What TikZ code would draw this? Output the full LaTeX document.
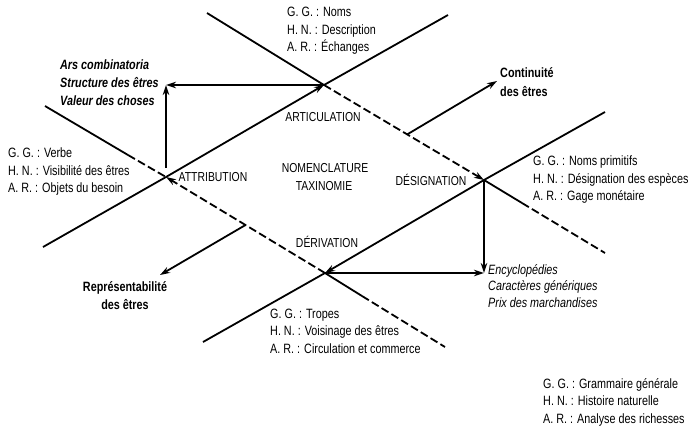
\documentclass[tikz,border=0pt]{standalone}
\usepackage{fontspec}
\setmainfont{Liberation Sans}[FakeStretch=0.8]
\usetikzlibrary{arrows.meta,calc}
\begin{document}
\begin{tikzpicture}[x=1pt,y=-1pt,
  ln/.style={line width=1.8pt},
  dsh/.style={line width=1.8pt, dash pattern=on 8pt off 3.5pt},
  arr/.style={-{Stealth[length=10pt,width=6.5pt]}},
  txt/.style={inner sep=0pt, font=\fontsize{13.5}{17.5}\selectfont, align=left, anchor=west},
  lbl/.style={inner sep=0pt, font=\fontsize{13}{17}\selectfont}]
\useasboundingbox (0,0) rectangle (692,432);
% vertices
\coordinate (Attr) at (166,177);
\coordinate (Art) at (324,85);
\coordinate (Des) at (484,180);
\coordinate (Der) at (325,273);
% line ends
\coordinate (EA1) at (43,247);
\coordinate (EA2) at (448,15);
\coordinate (EC1) at (207,13);
\coordinate (EC2) at (605,253);
\coordinate (ECm) at (522,203);
\coordinate (EB1) at (203,342);
\coordinate (EB2) at (605,112);
\coordinate (ED1) at (45,106);
\coordinate (EDm) at (128,155);
\coordinate (ED2) at (445,347);
\coordinate (EDn) at (362,296);
% line A
\draw[ln] (EA1) -- (Attr);
\draw[ln,arr] (Attr) -- (Art);
\draw[ln] (Art) -- (EA2);
% line C
\draw[ln] (EC1) -- (Art);
\draw[dsh,arr] (Art) -- (Des);
\draw[ln] (Des) -- (ECm);
\draw[dsh] (ECm) -- (EC2);
% line B
\draw[ln] (EB2) -- (Des);
\draw[ln,arr] (Des) -- (Der);
\draw[ln] (Der) -- (EB1);
% line D
\draw[ln] (ED1) -- (EDm);
\draw[dsh] (EDm) -- (Attr);
\draw[dsh,arr] (Der) -- (Attr);
\draw[ln] (Der) -- (EDn);
\draw[dsh] (EDn) -- (ED2);
% corner arrows
\coordinate (TL) at (Attr |- Art);
\coordinate (BR) at (Des |- Der);
\coordinate (AttrUp) at (166,168);
\draw[ln,arr] (Art) -- (TL);
\draw[ln,arr] (AttrUp) -- (TL);
\draw[ln,arr] (Des) -- (BR);
\draw[ln,arr] (Der) -- (BR);
% diagonal arrows
\coordinate (C1) at ($(Art)!0.52!(Des)$);
\coordinate (C2) at (497,81);
\coordinate (D1) at ($(Attr)!0.5!(Der)$);
\coordinate (D2) at (160,275);
\draw[ln,arr] (C1) -- (C2);
\draw[ln,arr] (D1) -- (D2);
% labels
\node[lbl] (lattr) at (213,177) {ATTRIBUTION};
\node[lbl] (lart) at (323,117) {ARTICULATION};
\node[lbl] (lnom) at (325,168) {NOMENCLATURE};
\node[lbl] (ltax) at (324,186) {TAXINOMIE};
\node[lbl] (ldes) at (431,180) {DÉSIGNATION};
\node[lbl] (lder) at (327,242) {DÉRIVATION};
% text blocks
\node[txt] (ttop) at (287,31) {G. G. : Noms\\H. N. : Description\\A. R. : Échanges};
\node[txt,font=\fontsize{13.5}{18}\selectfont\bfseries\itshape] (tars) at (60,83) {Ars combinatoria\\Structure des êtres\\Valeur des choses};
\node[txt] (tleft) at (8,172) {G. G. : Verbe\\H. N. : Visibilité des êtres\\A. R. : Objets du besoin};
\node[txt] (tright) at (533,180) {G. G. : Noms primitifs\\H. N. : Désignation des espèces\\A. R. : Gage monétaire};
\node[txt,font=\fontsize{13.5}{16.5}\selectfont\itshape] (tency) at (488,286) {Encyclopédies\\Caractères génériques\\Prix des marchandises};
\node[txt] (ttropes) at (270,331) {G. G. : Tropes\\H. N. : Voisinage des êtres\\A. R. : Circulation et commerce};
\node[txt] (tleg) at (543,402) {G. G. : Grammaire générale\\H. N. : Histoire naturelle\\A. R. : Analyse des richesses};
\node[txt,font=\fontsize{13.5}{18.5}\selectfont\bfseries] (tcont) at (500,82) {Continuité\\des êtres};
\node[inner sep=0pt,align=center,font=\fontsize{13.5}{18}\selectfont\bfseries] (trep) at (125,296) {Représentabilité\\des êtres};
\end{tikzpicture}
\end{document}
